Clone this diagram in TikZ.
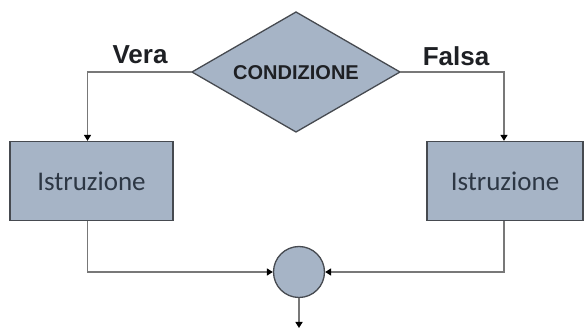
\documentclass[tikz,border=0pt]{standalone}
\usepackage{fontspec}
\setmainfont{Liberation Sans}
\newfontfamily\calib{Carlito}
\usetikzlibrary{shapes.geometric,arrows.meta}
\definecolor{boxfill}{RGB}{166,180,198}
\definecolor{boxdraw}{RGB}{70,74,80}
\definecolor{linecol}{RGB}{120,120,120}
\definecolor{txt}{RGB}{30,32,36}
\definecolor{itxt}{RGB}{45,55,68}
\tikzset{
  shp/.style={fill=boxfill, draw=boxdraw, line width=1.3pt},
  instr/.style={shp, rectangle, minimum height=79pt, inner sep=0pt, text=itxt, font=\calib\fontsize{27}{30}\selectfont},
  conn/.style={draw=linecol, line width=1.8pt, -{Triangle[length=6pt,width=7pt,color=black]}},
  lbl/.style={text=txt, font=\bfseries\fontsize{26}{28}\selectfont, inner sep=0pt}
}
\begin{document}
\begin{tikzpicture}[x=1pt,y=-1pt]
\useasboundingbox (0,0) rectangle (587,328);
\coordinate (condL) at (192,72);
\coordinate (condR) at (400,72);
\coordinate (condT) at (296,12);
\coordinate (condB) at (296,132);
\filldraw[shp, line join=miter] (condL) -- (condT) -- (condR) -- (condB) -- cycle;
\node[text=txt, font=\bfseries\fontsize{20}{22}\selectfont, inner sep=0pt] (cond) at (296,73) {CONDIZIONE};
\node[instr, minimum width=163pt] (b1) at (91.5,181) {Istruzione};
\node[instr, minimum width=156pt] (b2) at (505,181) {Istruzione};
\node[shp, circle, minimum size=51pt, inner sep=0pt] (j) at (299,272) {};
\coordinate (out) at (299,328);
\node[lbl] (vera) at (140,55) {Vera};
\node[lbl] (falsa) at (456,56) {Falsa};
\draw[conn] (condL) -| ([xshift=-4pt]b1.north);
\draw[conn] (condR) -| ([xshift=-1pt]b2.north);
\draw[conn] ([xshift=-4pt]b1.south) |- (j.west);
\draw[conn] ([xshift=-1pt]b2.south) |- (j.east);
\draw[conn] (j.south) -- (out);
\end{tikzpicture}
\end{document}
